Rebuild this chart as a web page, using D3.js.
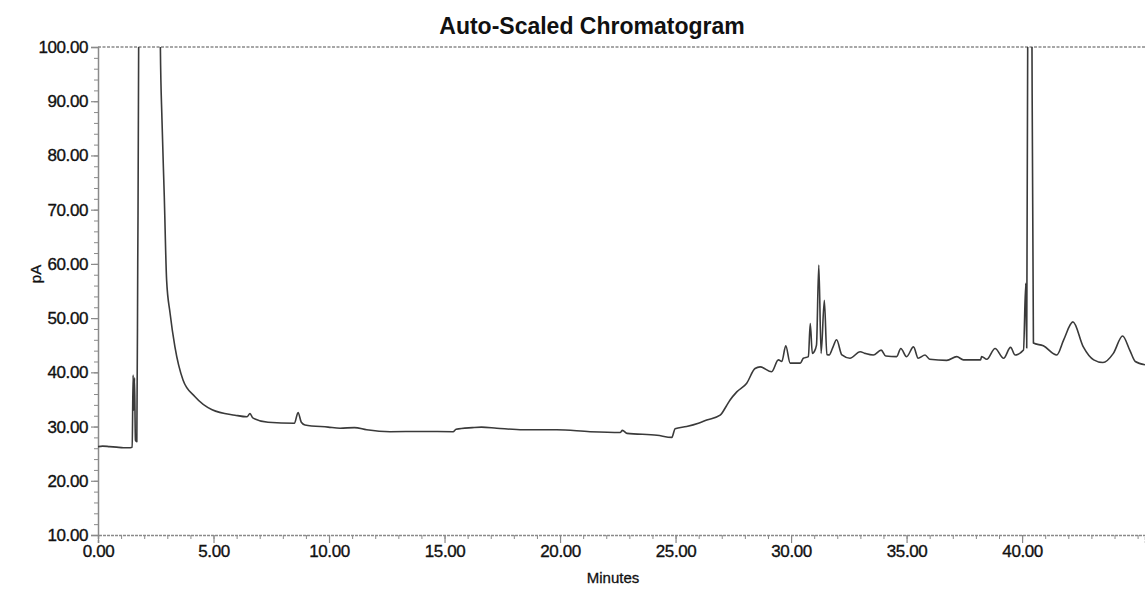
<!DOCTYPE html>
<html>
<head>
<meta charset="utf-8">
<script src="https://cdn.jsdelivr.net/npm/d3@7"></script>
<style>
  html, body { margin: 0; padding: 0; background: #fff; }
  svg { display: block; }
  text { font-family: "Liberation Sans", Arial, sans-serif; fill: #111; }
</style>
</head>
<body>
<svg id="chart" width="1145" height="589"></svg>
<script>
// ---- Data ----
const title = "Auto-Scaled Chromatogram";
const xLabel = "Minutes";
const yLabel = "pA";

const minutes = [
  0.0, 0.2, 0.5, 0.8, 1.1, 1.4, 1.48, 1.52, 1.55, 1.58, 1.62, 1.68, 1.72, 1.76, 1.8, 2.2, 2.6, 2.65, 2.7, 2.77, 2.87, 2.97,
  3.12, 3.33, 3.68, 4.2, 4.94, 5.93, 6.45, 6.58, 6.7, 7.36, 8.5, 8.66, 8.8, 8.96, 9.96, 10.48, 11.1, 11.63,
  12.64, 14.0, 15.37, 15.5, 16.2, 16.6, 17.26, 18.4, 19.86, 21.3, 22.6, 22.7, 22.9, 24.2, 24.84, 24.98,
  25.48, 25.99, 26.35, 26.93, 27.2, 27.36, 27.65, 28.08, 28.44, 28.66, 29.16, 29.45, 29.6, 29.77, 29.96,
  30.4, 30.53, 30.75, 30.83, 30.92, 31.0, 31.1, 31.2, 31.3, 31.44, 31.55, 31.65, 31.8, 31.97, 32.2, 32.55,
  32.99, 33.2, 33.56, 33.9, 34.1, 34.57, 34.75, 35.0, 35.3, 35.5, 35.8, 36.0, 36.74, 37.17, 37.46, 38.2,
  38.25, 38.47, 38.83, 39.2, 39.5, 39.7, 40.06, 40.16, 40.2, 40.25, 40.3, 40.42, 40.49, 40.92, 41.5, 41.8,
  42.2, 42.65, 43.1, 43.5, 43.95, 44.35, 44.66, 44.9, 45.32
];
const signal = [
  26.3, 26.4, 26.3, 26.2, 26.1, 26.1, 26.2, 39.5, 33.0, 39.0, 27.5, 27.2, 60.0, 100.5, 250, 400, 200, 130, 100, 86.5, 72.3, 57.0,
  50.9, 44.7, 38.6, 35.5, 33.1, 32.1, 31.8, 32.4, 31.6, 30.8, 30.6, 32.6, 30.8, 30.3, 29.9, 29.7, 29.8, 29.4,
  29.05, 29.1, 29.05, 29.5, 29.8, 29.9, 29.7, 29.4, 29.4, 29.05, 28.9, 29.3, 28.75, 28.4, 28.0, 29.6,
  30.0, 30.6, 31.2, 32.1, 33.8, 34.9, 36.4, 38.0, 40.7, 41.0, 40.1, 42.3, 42.0, 44.9, 41.7,
  41.7, 42.6, 42.9, 49.0, 43.5, 43.8, 45.0, 59.8, 43.5, 53.3, 43.3, 43.2, 44.5, 46.0, 43.2, 42.6,
  43.8, 43.5, 43.2, 44.1, 43.0, 42.9, 44.4, 42.9, 44.7, 42.6, 43.2, 42.4, 42.2, 42.9, 42.3, 42.3,
  42.9, 42.4, 44.4, 42.6, 44.6, 43.2, 44.1, 56.4, 44.5, 110, 300, 110, 45.4, 44.9, 43.2, 46.0,
  49.3, 44.7, 42.3, 41.8, 43.5, 46.7, 44.1, 42.0, 41.4
];

const yTicks = [10, 20, 30, 40, 50, 60, 70, 80, 90, 100];
const xTicks = [0, 5, 10, 15, 20, 25, 30, 35, 40];

// ---- Layout ----
const svg = d3.select("#chart");
const plotL = 98, plotR = 1145, plotT = 47, plotB = 535;

const x = d3.scaleLinear().domain([0, 45.32]).range([plotL, plotR]);
const y = d3.scaleLinear().domain([10, 100]).range([plotB, plotT]);

const axisColor = "#8a8a8a";

// Title
svg.append("text")
  .attr("x", 592).attr("y", 34)
  .attr("text-anchor", "middle")
  .style("font-size", "23px").style("font-weight", "bold")
  .text(title);

// Clip
svg.append("clipPath").attr("id", "plotclip")
  .append("rect").attr("x", plotL).attr("y", plotT).attr("width", plotR - plotL).attr("height", plotB - plotT);

// Top border (dotted)
svg.append("line")
  .attr("x1", plotL).attr("x2", plotR).attr("y1", plotT).attr("y2", plotT)
  .attr("stroke", axisColor).attr("stroke-width", 1.4).attr("stroke-dasharray", "3,1.5");

// Minor ticks Y
const yMinor = d3.range(10, 100.01, 2);
svg.append("g").attr("transform", `translate(${plotL},0)`)
  .call(d3.axisLeft(y).tickValues(yMinor).tickSize(4).tickFormat(""))
  .call(g => g.select(".domain").remove())
  .call(g => g.selectAll("line").attr("stroke", axisColor));

// Major Y axis
svg.append("g").attr("transform", `translate(${plotL},0)`)
  .call(d3.axisLeft(y).tickValues(yTicks).tickSize(7).tickPadding(3).tickFormat(d3.format(".2f")))
  .call(g => g.select(".domain").attr("stroke", axisColor).attr("stroke-width", 1.5))
  .call(g => g.selectAll("line").attr("stroke", axisColor).attr("stroke-width", 1.2))
  .call(g => g.selectAll("text").style("font-size", "17px").attr("fill", "#111")
      .attr("stroke", "#111").attr("stroke-width", 0.35).style("letter-spacing", "-0.4px"));

// Minor ticks X
const xMinor = d3.range(0, 45.01, 1);
svg.append("g").attr("transform", `translate(0,${plotB})`)
  .call(d3.axisBottom(x).tickValues(xMinor).tickSize(4).tickFormat(""))
  .call(g => g.select(".domain").remove())
  .call(g => g.selectAll("line").attr("stroke", axisColor));

// Major X axis
svg.append("g").attr("transform", `translate(0,${plotB})`)
  .call(d3.axisBottom(x).tickValues(xTicks).tickSize(8).tickPadding(2).tickFormat(d3.format(".2f")))
  .call(g => g.select(".domain").attr("stroke", axisColor).attr("stroke-width", 1.5).attr("stroke-dasharray", "3,1"))
  .call(g => g.selectAll("line").attr("stroke", axisColor).attr("stroke-width", 1.2))
  .call(g => g.selectAll("text").style("font-size", "17px").attr("fill", "#111")
      .attr("stroke", "#111").attr("stroke-width", 0.35).style("letter-spacing", "-0.4px"));

// Axis titles
svg.append("text")
  .attr("x", 613).attr("y", 583)
  .attr("text-anchor", "middle")
  .style("font-size", "15px")
  .attr("stroke", "#111").attr("stroke-width", 0.3)
  .text(xLabel);

svg.append("text")
  .attr("transform", `translate(41,274) rotate(-90)`)
  .attr("text-anchor", "middle")
  .style("font-size", "15px")
  .attr("stroke", "#111").attr("stroke-width", 0.3)
  .text(yLabel);

// Trace
const pts = minutes.map((m, i) => [m, signal[i]]);
const line = d3.line()
  .x(d => x(d[0]))
  .y(d => y(d[1]))
  .curve(d3.curveMonotoneX);

svg.append("path")
  .attr("clip-path", "url(#plotclip)")
  .datum(pts)
  .attr("d", line)
  .attr("fill", "none")
  .attr("stroke", "#3a3a3a")
  .attr("stroke-width", 1.6)
  .attr("stroke-linejoin", "round");
</script>
</body>
</html>
